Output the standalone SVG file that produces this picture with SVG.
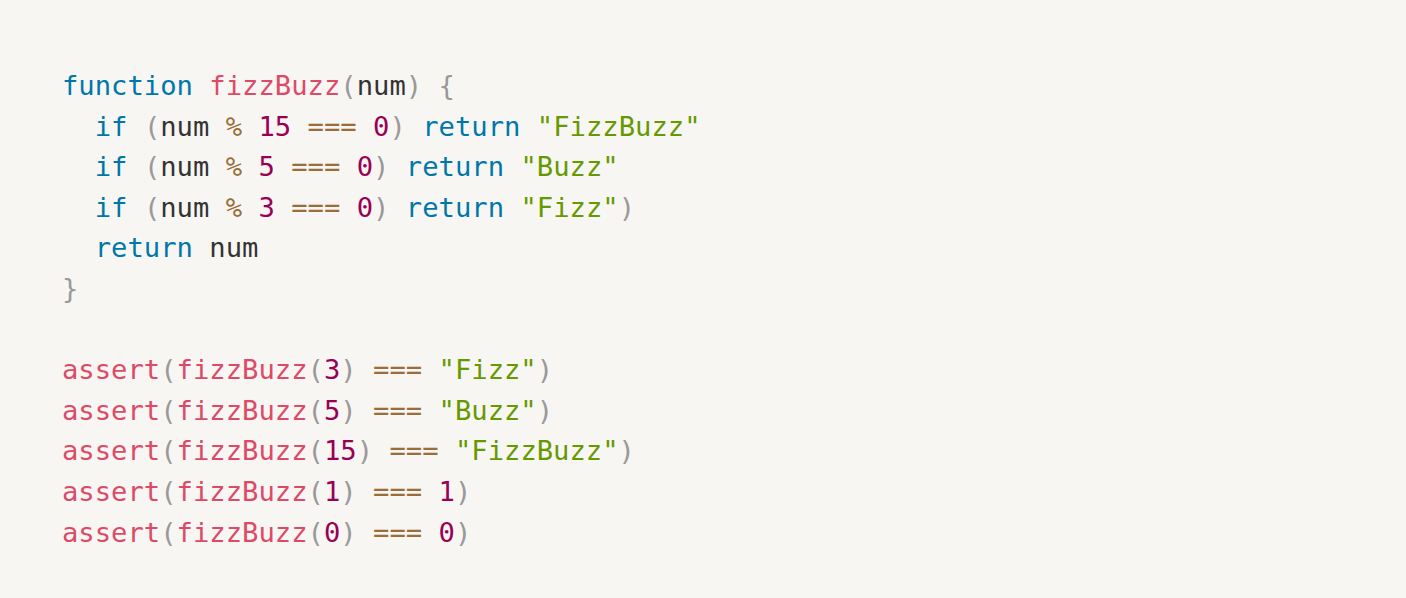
<svg xmlns="http://www.w3.org/2000/svg" width="1406" height="598" viewBox="0 0 1406 598">
<style>
text{font-family:"DejaVu Sans Mono","Liberation Mono",monospace;font-size:27.2px;fill:#333;white-space:pre}
.k{fill:#07a}.f{fill:#dd4a68}.p{fill:#999}.o{fill:#9a6e3a}.n{fill:#905}.s{fill:#690}
</style>
<rect width="1406" height="598" fill="#f7f6f3"/>
<g id="code" xml:space="preserve">
<text x="62" y="95"><tspan class="k">function</tspan> <tspan class="f">fizzBuzz</tspan><tspan class="p">(</tspan>num<tspan class="p">)</tspan> <tspan class="p">{</tspan></text>
<text x="62" y="135.6">  <tspan class="k">if</tspan> <tspan class="p">(</tspan>num <tspan class="o">%</tspan> <tspan class="n">15</tspan> <tspan class="o">===</tspan> <tspan class="n">0</tspan><tspan class="p">)</tspan> <tspan class="k">return</tspan> <tspan class="s">"FizzBuzz"</tspan></text>
<text x="62" y="176.2">  <tspan class="k">if</tspan> <tspan class="p">(</tspan>num <tspan class="o">%</tspan> <tspan class="n">5</tspan> <tspan class="o">===</tspan> <tspan class="n">0</tspan><tspan class="p">)</tspan> <tspan class="k">return</tspan> <tspan class="s">"Buzz"</tspan></text>
<text x="62" y="216.8">  <tspan class="k">if</tspan> <tspan class="p">(</tspan>num <tspan class="o">%</tspan> <tspan class="n">3</tspan> <tspan class="o">===</tspan> <tspan class="n">0</tspan><tspan class="p">)</tspan> <tspan class="k">return</tspan> <tspan class="s">"Fizz"</tspan><tspan class="p">)</tspan></text>
<text x="62" y="257.4">  <tspan class="k">return</tspan> num</text>
<text x="62" y="298"><tspan class="p">}</tspan></text>
<text x="62" y="379.2"><tspan class="f">assert</tspan><tspan class="p">(</tspan><tspan class="f">fizzBuzz</tspan><tspan class="p">(</tspan><tspan class="n">3</tspan><tspan class="p">)</tspan> <tspan class="o">===</tspan> <tspan class="s">"Fizz"</tspan><tspan class="p">)</tspan></text>
<text x="62" y="419.8"><tspan class="f">assert</tspan><tspan class="p">(</tspan><tspan class="f">fizzBuzz</tspan><tspan class="p">(</tspan><tspan class="n">5</tspan><tspan class="p">)</tspan> <tspan class="o">===</tspan> <tspan class="s">"Buzz"</tspan><tspan class="p">)</tspan></text>
<text x="62" y="460.4"><tspan class="f">assert</tspan><tspan class="p">(</tspan><tspan class="f">fizzBuzz</tspan><tspan class="p">(</tspan><tspan class="n">15</tspan><tspan class="p">)</tspan> <tspan class="o">===</tspan> <tspan class="s">"FizzBuzz"</tspan><tspan class="p">)</tspan></text>
<text x="62" y="501"><tspan class="f">assert</tspan><tspan class="p">(</tspan><tspan class="f">fizzBuzz</tspan><tspan class="p">(</tspan><tspan class="n">1</tspan><tspan class="p">)</tspan> <tspan class="o">===</tspan> <tspan class="n">1</tspan><tspan class="p">)</tspan></text>
<text x="62" y="541.6"><tspan class="f">assert</tspan><tspan class="p">(</tspan><tspan class="f">fizzBuzz</tspan><tspan class="p">(</tspan><tspan class="n">0</tspan><tspan class="p">)</tspan> <tspan class="o">===</tspan> <tspan class="n">0</tspan><tspan class="p">)</tspan></text>
</g>
</svg>
